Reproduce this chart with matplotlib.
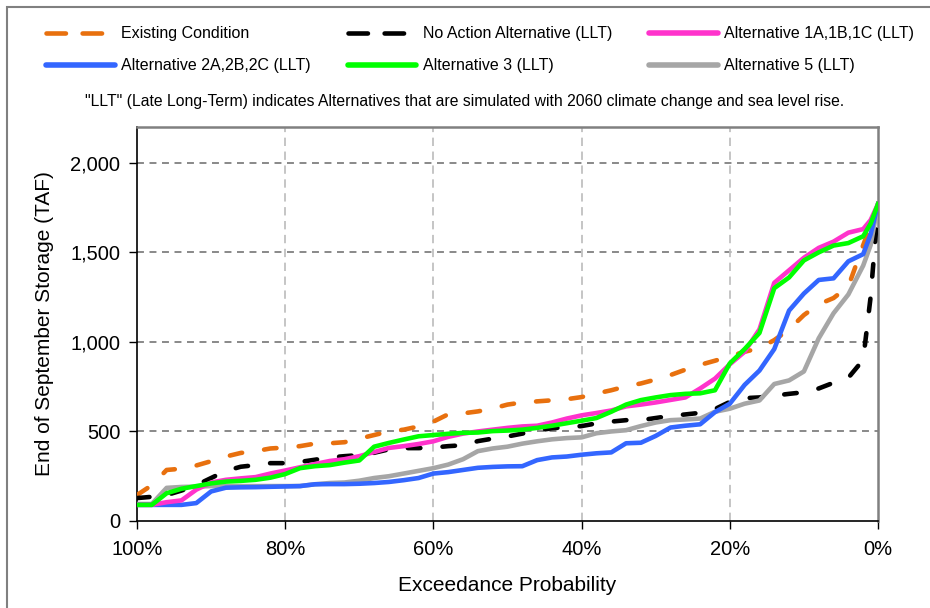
import numpy as np
import matplotlib
matplotlib.use("Agg")
import matplotlib.pyplot as plt
from matplotlib.lines import Line2D
from matplotlib.patches import Rectangle
from matplotlib.ticker import FuncFormatter

plt.rcParams['font.family'] = ['Liberation Sans', 'DejaVu Sans']
plt.rcParams['lines.scale_dashes'] = False

# exceedance probability (%) shared by all series
prob = [100, 98, 96, 94, 92, 90, 88, 86, 84, 82, 80, 78, 76, 74, 72, 70, 68, 66, 64, 62,
        60, 58, 56, 54, 52, 50, 48, 46, 44, 42, 40, 38, 36, 34, 32, 30, 28, 26, 24, 22,
        20, 18, 16, 14, 12, 10, 8, 6, 4, 2, 1, 0]

# end of september storage (TAF)
existing = [145, 200, 285, 292, 310, 334, 360, 380, 390, 405, 410, 418, 432, 434, 440, 460, 480, 500, 510, 528,
            555, 596, 601, 612, 628, 650, 662, 668, 674, 680, 692, 712, 730, 752, 768, 790, 815, 845, 872, 895,
            920, 945, 965, 1010, 1070, 1150, 1210, 1245, 1310, 1540, 1650, 1760]
no_action = [128, 135, 145, 170, 200, 240, 280, 303, 312, 323, 323, 330, 342, 355, 362, 368, 381, 400, 407, 407,
             410, 418, 423, 446, 460, 472, 488, 505, 518, 524, 530, 545, 555, 563, 563, 575, 587, 595, 604, 625,
             665, 686, 690, 700, 710, 719, 740, 772, 800, 900, 1250, 1760]
alt1 = [90, 90, 105, 115, 175, 215, 230, 238, 245, 265, 282, 300, 318, 335, 345, 362, 385, 408, 418, 430,
        445, 470, 488, 500, 510, 520, 528, 532, 550, 572, 590, 603, 617, 640, 650, 662, 676, 690, 740, 795,
        875, 945, 1070, 1330, 1400, 1470, 1525, 1560, 1610, 1630, 1680, 1770]
alt2 = [90, 90, 90, 90, 100, 165, 186, 188, 189, 191, 193, 195, 205, 206, 206, 208, 212, 218, 228, 240,
        265, 273, 285, 297, 302, 305, 306, 340, 355, 360, 370, 378, 383, 434, 437, 475, 522, 532, 540, 608,
        655, 760, 840, 960, 1175, 1270, 1346, 1355, 1450, 1490, 1600, 1770]
alt3 = [90, 90, 155, 180, 195, 210, 220, 224, 230, 242, 262, 295, 306, 312, 326, 338, 415, 436, 455, 473,
        480, 487, 492, 494, 502, 505, 510, 520, 532, 546, 560, 575, 610, 650, 675, 690, 703, 710, 713, 730,
        880, 960, 1050, 1300, 1360, 1455, 1500, 1538, 1552, 1590, 1660, 1770]
alt5 = [95, 95, 185, 190, 192, 195, 195, 195, 195, 195, 195, 195, 205, 212, 215, 225, 240, 250, 265, 280,
        295, 315, 345, 390, 405, 415, 432, 445, 456, 463, 467, 490, 500, 507, 530, 550, 563, 567, 572, 610,
        627, 655, 673, 765, 785, 835, 1020, 1160, 1265, 1426, 1540, 1770]

labels = ["Existing Condition", "No Action Alternative (LLT)", "Alternative 1A,1B,1C (LLT)",
          "Alternative 2A,2B,2C (LLT)", "Alternative 3 (LLT)", "Alternative 5 (LLT)"]
colors = ["#E8700E", "#000000", "#FF33CC", "#3366FF", "#00FF00", "#A6A6A6"]

W, H = 930, 608
fig = plt.figure(figsize=(W / 100, H / 100), dpi=100)
ax = fig.add_axes([137 / W, 1 - 521 / H, 741 / W, 394 / H])

# figure frame
fig.patches.append(Rectangle((7 / W, -0.1), 1.2, 1 - 7 / H + 0.1, transform=fig.transFigure,
                             fill=False, edgecolor="#808080", linewidth=1.5))

lw = 3.3
dash = (9, 16)
series = [existing, no_action, alt1, alt2, alt3, alt5]
order = [0, 1, 5, 3, 2, 4]
for i in order:
    kw = dict(color=colors[i], linewidth=lw, solid_joinstyle="round", zorder=3)
    if i < 2:
        kw.update(dashes=dash, dash_capstyle="round")
    ax.plot(prob, series[i], **kw)

ax.set_xlim(100, 0)
ax.set_ylim(0, 2200)
ax.set_xticks([100, 80, 60, 40, 20, 0])
ax.set_yticks([0, 500, 1000, 1500, 2000])
ax.xaxis.set_major_formatter(FuncFormatter(lambda v, p: f"{v:.0f}%"))
ax.yaxis.set_major_formatter(FuncFormatter(lambda v, p: f"{v:,.0f}"))
ax.tick_params(labelsize=14.5, length=6, width=1, direction="out", pad=6)
ax.tick_params(axis="x", pad=8)

for y in [500, 1000, 1500, 2000]:
    ax.axhline(y, color="#808080", linewidth=1.3, dashes=(5, 4), zorder=1)
for x in [80, 60, 40, 20]:
    ax.axvline(x, color="#C0C0C0", linewidth=1.3, dashes=(6, 4), zorder=1)

for s in ["top", "right"]:
    ax.spines[s].set_color("#808080")
    ax.spines[s].set_linewidth(1.8)
for s in ["left", "bottom"]:
    ax.spines[s].set_color("#000000")
    ax.spines[s].set_linewidth(1.2)

ax.set_xlabel("Exceedance Probability", fontsize=15, labelpad=12)
ax.set_ylabel("End of September Storage (TAF)", fontsize=15, labelpad=12)

# legend above the plot, filled row by row
handles = []
for i in range(6):
    if i < 2:
        h = Line2D([], [], color=colors[i], linewidth=lw, dashes=(14, 12), dash_capstyle="round")
    else:
        h = Line2D([], [], color=colors[i], linewidth=lw + 0.7, solid_capstyle="round")
    handles.append(h)
leg_order = [0, 3, 1, 4, 2, 5]
fig.legend([handles[i] for i in leg_order], [labels[i] for i in leg_order], ncol=3,
           loc="upper left", bbox_to_anchor=(32 / W, 1 - 12 / H),
           frameon=False, fontsize=11.5, handlelength=4.3, handletextpad=0.4,
           columnspacing=2.3, labelspacing=1.05)

fig.text(465 / W, 1 - 101 / H, "\"LLT\" (Late Long-Term) indicates Alternatives that are simulated "
         "with 2060 climate change and sea level rise.", ha="center", va="center", fontsize=11.3)

fig.savefig("out.png", dpi=100)
